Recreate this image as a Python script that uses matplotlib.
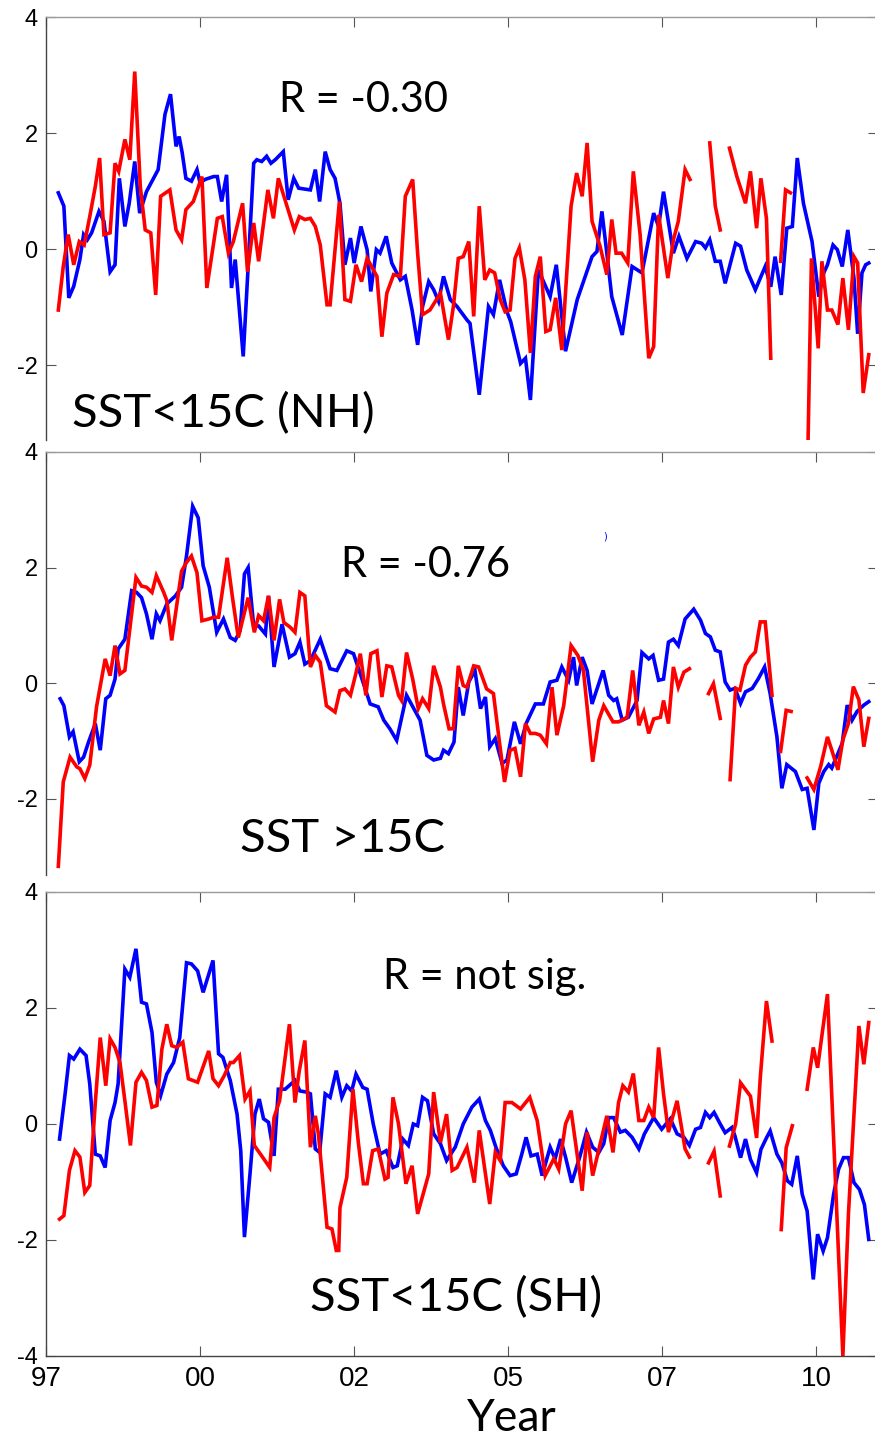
import numpy as np
import matplotlib
matplotlib.use("Agg")
import matplotlib.pyplot as plt

nan = np.nan

# x axis: decimal years, ticks every 2.5 years labelled with two digits
xticks = [1997.5, 2000.0, 2002.5, 2005.0, 2007.5, 2010.0]
xticklabels = ['97', '00', '02', '05', '07', '10']
yticks = [-4, -2, 0, 2, 4]
yticklabels = ['-4', '-2', '0', '2', '4']

# panel 1: SST<15C (NH)
nh_blue_t = [1997.70, 1997.79, 1997.87, 1997.95, 1998.05, 1998.11, 1998.17, 1998.24, 1998.36, 1998.44,
             1998.54, 1998.62, 1998.69, 1998.78, 1998.85, 1998.94, 1999.02, 1999.13, 1999.32, 1999.43,
             1999.52, 1999.61, 1999.66, 1999.71, 1999.77, 1999.86, 1999.95, 2000.00, 2000.08, 2000.22,
             2000.28, 2000.35, 2000.43, 2000.51, 2000.57, 2000.70, 2000.78, 2000.87, 2000.92, 2001.00,
             2001.08, 2001.15, 2001.22, 2001.35, 2001.43, 2001.52, 2001.60, 2001.79, 2001.87, 2001.94,
             2002.03, 2002.11, 2002.19, 2002.27, 2002.35, 2002.44, 2002.50, 2002.61, 2002.71, 2002.77,
             2002.86, 2002.92, 2003.02, 2003.11, 2003.25, 2003.33, 2003.44, 2003.53, 2003.61, 2003.71,
             2003.79, 2003.87, 2003.95, 2004.06, 2004.17, 2004.33, 2004.38, 2004.53, 2004.68, 2004.76,
             2004.86, 2004.98, 2005.04, 2005.20, 2005.28, 2005.36, 2005.49, 2005.68, 2005.78, 2005.93,
             2006.12, 2006.25, 2006.36, 2006.44, 2006.52, 2006.60, 2006.68, 2006.85, 2007.01, 2007.17,
             2007.36, 2007.44, 2007.52, 2007.68, 2007.77, 2007.90, 2008.04, 2008.14, 2008.20, 2008.27,
             2008.36, 2008.44, 2008.52, 2008.69, 2008.77, 2008.87, 2009.01, 2009.17, 2009.26, 2009.33,
             2009.43, 2009.52, 2009.61, 2009.69, 2009.79, 2009.93, 2010.04, 2010.12, 2010.18, 2010.27,
             2010.34, 2010.42, 2010.51, 2010.61, 2010.67, 2010.74, 2010.80, 2010.85]
nh_blue = [0.97, 0.74, -0.84, -0.64, -0.18, 0.25, 0.16, 0.28, 0.65, 0.48,
           -0.39, -0.27, 1.22, 0.39, 0.79, 1.51, 0.62, 0.99, 1.37, 2.32,
           2.67, 1.77, 1.94, 1.66, 1.22, 1.17, 1.37, 1.14, 1.20, 1.25,
           1.25, 0.82, 1.28, -0.67, -0.18, -1.85, -0.30, 1.48, 1.54, 1.51,
           1.60, 1.48, 1.54, 1.68, 0.85, 1.22, 1.05, 1.02, 1.37, 0.82,
           1.68, 1.37, 1.22, 0.79, -0.27, 0.19, -0.24, 0.39, -0.01, -0.73,
           -0.01, -0.07, 0.22, -0.24, -0.53, -0.47, -1.05, -1.65, -0.99, -0.56,
           -0.70, -0.90, -0.47, -0.87, -0.99, -1.22, -1.28, -2.51, -0.99, -1.13,
           -0.53, -1.08, -1.25, -1.97, -1.88, -2.60, -0.36, -0.82, -0.27, -1.76,
           -0.87, -0.47, -0.13, -0.04, 0.65, -0.07, -0.82, -1.48, -0.30, -0.41,
           0.62, 0.39, 0.99, -0.07, 0.22, -0.16, 0.13, 0.10, 0.02, 0.16,
           -0.21, -0.21, -0.59, 0.10, 0.05, -0.36, -0.70, -0.30, -0.65, -0.13,
           -0.79, 0.36, 0.39, 1.57, 0.79, 0.13, -0.82, -0.41, -0.27, 0.07,
           -0.01, -0.30, 0.33, -0.50, -1.46, -0.41, -0.27, -0.24]
nh_red_t = [1997.70, 1997.78, 1997.86, 1997.95, 1998.04, 1998.12, 1998.21, 1998.30, 1998.37, 1998.44,
            1998.54, 1998.62, 1998.68, 1998.78, 1998.86, 1998.94, 1999.03, 1999.11, 1999.20, 1999.28,
            1999.36, 1999.51, 1999.61, 1999.70, 1999.77, 1999.89, 2000.03, 2000.11, 2000.28, 2000.36,
            2000.46, 2000.54, 2000.69, 2000.77, 2000.87, 2000.95, 2001.10, 2001.19, 2001.27, 2001.41,
            2001.53, 2001.61, 2001.70, 2001.79, 2001.87, 2001.95, 2002.06, 2002.11, 2002.26, 2002.35,
            2002.44, 2002.53, 2002.62, 2002.71, 2002.87, 2002.95, 2003.03, 2003.14, 2003.25, 2003.33,
            2003.45, 2003.53, 2003.61, 2003.73, 2003.90, 2004.03, 2004.11, 2004.19, 2004.27, 2004.36,
            2004.44, 2004.53, 2004.62, 2004.70, 2004.78, 2004.87, 2004.95, 2005.03, 2005.11, 2005.18,
            2005.27, 2005.36, 2005.44, 2005.52, 2005.61, 2005.68, 2005.77, 2005.87, 2006.02, 2006.11,
            2006.20, 2006.28, 2006.36, 2006.49, 2006.60, 2006.68, 2006.75, 2006.84, 2006.94, 2007.03,
            2007.14, 2007.28, 2007.36, 2007.44, 2007.59, 2007.68, 2007.76, 2007.87, 2007.95, 2008.10,
            2008.27, 2008.36, 2008.44, 2008.52, 2008.59, 2008.71, 2008.85, 2008.93, 2009.03, 2009.10,
            2009.19, 2009.26, 2009.34, 2009.42, 2009.50, 2009.58, 2009.72, 2009.86, 2009.92, 2010.03,
            2010.09, 2010.18, 2010.25, 2010.35, 2010.43, 2010.52, 2010.61, 2010.67, 2010.76, 2010.85]
nh_red = [-1.05, -0.30, 0.25, -0.27, 0.13, 0.07, 0.56, 1.08, 1.57, 0.25,
          0.28, 1.48, 1.34, 1.89, 1.54, 3.06, 1.08, 0.33, 0.28, -0.79,
          0.91, 1.02, 0.33, 0.16, 0.68, 0.82, 1.25, -0.67, 0.53, 0.56,
          -0.07, 0.13, 0.79, -0.39, 0.45, -0.21, 1.02, 0.53, 1.22, 0.74,
          0.33, 0.56, 0.51, 0.53, 0.39, 0.07, -0.96, -0.96, 0.82, -0.87,
          -0.90, -0.27, -0.56, -0.16, -0.47, -1.51, -0.76, -0.44, -0.47, 0.91,
          1.20, -0.07, -1.13, -1.05, -0.76, -1.56, -0.99, -0.16, -0.13, 0.13,
          -1.16, 0.74, -0.53, -0.36, -0.41, -0.87, -1.08, -1.05, -0.16, 0.02,
          -0.53, -1.79, -0.47, -0.13, -1.42, -1.39, -0.84, -1.74, 0.74, 1.31,
          0.91, 1.83, 0.48, 0.05, -0.44, 0.51, -0.07, -0.07, -0.24, 1.34,
          0.25, -1.88, -1.68, 0.59, -0.50, 0.16, 0.48, 1.37, 1.20, nan,
          1.83, 0.74, 0.33, nan, 1.74, 1.25, 0.79, 1.34, 0.36, 1.22,
          0.53, -1.88, nan, -0.21, 1.02, 0.97, nan, -3.6, -0.16, -1.71,
          -0.21, -1.05, -1.05, -1.30, -0.50, -1.39, -0.13, -0.24, -2.48, -1.82]

# panel 2: SST >15C
warm_blue_t = [1997.73, 1997.79, 1997.88, 1997.94, 1998.04, 1998.11, 1998.19, 1998.30, 1998.38, 1998.47,
               1998.54, 1998.62, 1998.67, 1998.78, 1998.89, 1998.97, 1999.05, 1999.13, 1999.22, 1999.29,
               1999.35, 1999.46, 1999.60, 1999.70, 1999.78, 1999.88, 1999.97, 2000.05, 2000.15, 2000.27,
               2000.38, 2000.49, 2000.57, 2000.65, 2000.72, 2000.78, 2000.87, 2000.95, 2001.06, 2001.11,
               2001.20, 2001.33, 2001.45, 2001.54, 2001.62, 2001.70, 2001.79, 2001.95, 2002.11, 2002.22,
               2002.38, 2002.49, 2002.60, 2002.76, 2002.89, 2002.98, 2003.08, 2003.19, 2003.35, 2003.57,
               2003.68, 2003.79, 2003.90, 2003.95, 2004.03, 2004.12, 2004.19, 2004.27, 2004.36, 2004.46,
               2004.55, 2004.63, 2004.70, 2004.79, 2004.90, 2004.98, 2005.10, 2005.20, 2005.29, 2005.44,
               2005.57, 2005.68, 2005.79, 2005.87, 2005.98, 2006.06, 2006.11, 2006.20, 2006.28, 2006.36,
               2006.54, 2006.63, 2006.71, 2006.76, 2006.85, 2006.95, 2007.09, 2007.17, 2007.28, 2007.35,
               2007.44, 2007.52, 2007.60, 2007.68, 2007.76, 2007.87, 2008.01, 2008.12, 2008.20, 2008.28,
               2008.36, 2008.44, 2008.52, 2008.60, 2008.68, 2008.77, 2008.85, 2008.96, 2009.06, 2009.16,
               2009.25, 2009.36, 2009.44, 2009.52, 2009.66, 2009.77, 2009.85, 2009.96, 2010.04, 2010.12,
               2010.20, 2010.25, 2010.34, 2010.42, 2010.50, 2010.58, 2010.66, 2010.77, 2010.85]
warm_blue = [-0.27, -0.39, -0.93, -0.84, -1.36, -1.28, -1.02, -0.70, -1.16, -0.27,
             -0.21, 0.07, 0.59, 0.76, 1.60, 1.57, 1.48, 1.20, 0.76, 1.20,
             1.08, 1.37, 1.51, 1.66, 2.20, 3.06, 2.86, 2.03, 1.66, 0.88,
             1.11, 0.79, 0.74, 0.91, 1.89, 2.00, 0.99, 0.99, 0.85, 1.51,
             0.28, 1.02, 0.45, 0.51, 0.71, 0.33, 0.39, 0.76, 0.25, 0.22,
             0.56, 0.51, 0.16, -0.36, -0.41, -0.64, -0.79, -0.99, -0.21, -0.64,
             -1.25, -1.33, -1.30, -1.16, -1.22, -1.02, -0.07, -0.56, 0.02, 0.22,
             -0.44, -0.24, -1.10, -0.96, -1.39, -1.33, -0.67, -1.05, -0.70, -0.36,
             -0.36, 0.02, 0.05, 0.28, 0.05, 0.45, -0.04, 0.45, 0.22, -0.36,
             0.22, -0.21, -0.30, -0.27, -0.64, -0.59, -0.30, 0.53, 0.42, 0.48,
             0.05, 0.07, 0.71, 0.76, 0.65, 1.11, 1.28, 1.09, 0.86, 0.80,
             0.57, 0.54, 0.02, -0.12, -0.09, -0.35, -0.15, -0.09, 0.08, 0.28,
             -0.18, -0.93, -1.82, -1.41, -1.53, -1.84, -1.82, -2.54, -1.73, -1.53,
             -1.41, -1.47, -1.24, -1.04, -0.38, -0.64, -0.49, -0.38, -0.32]
warm_red_t = [1997.70, 1997.78, 1997.89, 1998.00, 1998.05, 1998.13, 1998.21, 1998.32, 1998.46, 1998.54,
              1998.62, 1998.70, 1998.78, 1998.96, 1999.05, 1999.13, 1999.22, 1999.29, 1999.41, 1999.46,
              1999.54, 1999.70, 1999.78, 1999.86, 1999.95, 2000.03, 2000.14, 2000.22, 2000.30, 2000.44,
              2000.53, 2000.62, 2000.78, 2000.88, 2000.95, 2001.03, 2001.11, 2001.20, 2001.29, 2001.36,
              2001.46, 2001.54, 2001.62, 2001.70, 2001.79, 2001.87, 2001.95, 2002.05, 2002.19, 2002.27,
              2002.35, 2002.44, 2002.52, 2002.60, 2002.69, 2002.77, 2002.87, 2002.95, 2003.03, 2003.11,
              2003.22, 2003.27, 2003.35, 2003.45, 2003.54, 2003.61, 2003.71, 2003.79, 2003.90, 2003.95,
              2004.04, 2004.11, 2004.19, 2004.27, 2004.33, 2004.44, 2004.52, 2004.65, 2004.76, 2004.84,
              2004.94, 2005.03, 2005.11, 2005.20, 2005.28, 2005.36, 2005.44, 2005.52, 2005.62, 2005.71,
              2005.79, 2005.90, 2006.02, 2006.13, 2006.22, 2006.37, 2006.47, 2006.55, 2006.70, 2006.79,
              2006.93, 2007.02, 2007.12, 2007.20, 2007.28, 2007.36, 2007.47, 2007.52, 2007.60, 2007.68,
              2007.76, 2007.85, 2007.94, 2008.10, 2008.25, 2008.33, 2008.44, 2008.52, 2008.60, 2008.69,
              2008.76, 2008.85, 2008.93, 2009.01, 2009.09, 2009.17, 2009.28, 2009.35, 2009.42, 2009.51,
              2009.59, 2009.72, 2009.85, 2009.96, 2010.07, 2010.18, 2010.25, 2010.35, 2010.43, 2010.52,
              2010.60, 2010.69, 2010.77, 2010.85]
warm_red = [-3.17, -1.71, -1.28, -1.45, -1.48, -1.65, -1.42, -0.41, 0.42, 0.13,
            0.65, 0.16, 0.22, 1.83, 1.68, 1.66, 1.57, 1.86, 1.57, 1.43,
            0.74, 1.94, 2.09, 2.20, 1.91, 1.08, 1.11, 1.14, 1.14, 2.17,
            1.45, 0.79, 1.48, 0.88, 1.17, 1.08, 1.51, 0.74, 1.45, 1.05,
            0.97, 0.88, 1.57, 1.51, 0.28, 0.48, 0.36, -0.39, -0.50, -0.13,
            -0.10, -0.21, 0.13, 0.51, -0.21, 0.51, 0.56, -0.24, 0.30, 0.28,
            -0.21, -0.30, 0.53, 0.07, -0.44, -0.27, -0.44, 0.30, -0.07, -0.36,
            -0.79, -0.79, 0.30, -0.04, -0.07, 0.30, 0.28, -0.10, -0.18, -0.87,
            -1.71, -1.16, -1.13, -1.62, -0.70, -0.87, -0.87, -0.90, -1.05, -0.07,
            -0.90, -0.39, 0.65, 0.48, 0.22, -1.36, -0.64, -0.39, -0.67, -0.67,
            -0.59, 0.22, -0.73, -0.50, -0.87, -0.62, -0.59, -0.30, -0.70, 0.28,
            -0.07, 0.19, 0.25, nan, -0.18, -0.01, -0.61, nan, -1.67, -0.09,
            -0.12, 0.31, 0.45, 0.54, 1.06, 1.06, -0.21, nan, -1.18, -0.47,
            -0.49, nan, -1.64, -1.84, -1.44, -0.93, -1.16, -1.50, -0.98, -0.70,
            -0.06, -0.29, -1.10, -0.61]

# panel 3: SST<15C (SH)
sh_blue_t = [1997.72, 1997.81, 1997.88, 1997.95, 1998.05, 1998.15, 1998.21, 1998.30, 1998.38, 1998.46,
             1998.54, 1998.62, 1998.67, 1998.78, 1998.86, 1998.96, 1999.05, 1999.13, 1999.22, 1999.29,
             1999.36, 1999.46, 1999.57, 1999.67, 1999.78, 1999.86, 1999.96, 2000.05, 2000.21, 2000.30,
             2000.37, 2000.49, 2000.60, 2000.66, 2000.72, 2000.81, 2000.89, 2000.96, 2001.03, 2001.11,
             2001.20, 2001.27, 2001.38, 2001.54, 2001.62, 2001.73, 2001.79, 2001.87, 2001.94, 2002.03,
             2002.11, 2002.21, 2002.30, 2002.38, 2002.46, 2002.53, 2002.64, 2002.71, 2002.81, 2002.92,
             2003.02, 2003.13, 2003.20, 2003.29, 2003.38, 2003.46, 2003.53, 2003.61, 2003.69, 2003.79,
             2003.90, 2004.00, 2004.14, 2004.27, 2004.41, 2004.53, 2004.63, 2004.71, 2004.80, 2004.92,
             2005.03, 2005.13, 2005.22, 2005.29, 2005.37, 2005.47, 2005.55, 2005.68, 2005.76, 2005.85,
             2005.93, 2006.03, 2006.16, 2006.27, 2006.37, 2006.47, 2006.55, 2006.63, 2006.71, 2006.82,
             2006.90, 2007.01, 2007.12, 2007.21, 2007.36, 2007.49, 2007.63, 2007.74, 2007.85, 2007.94,
             2008.04, 2008.12, 2008.20, 2008.27, 2008.34, 2008.44, 2008.52, 2008.63, 2008.68, 2008.77,
             2008.85, 2008.93, 2009.03, 2009.10, 2009.19, 2009.25, 2009.36, 2009.44, 2009.53, 2009.60,
             2009.69, 2009.77, 2009.85, 2009.95, 2010.02, 2010.11, 2010.18, 2010.28, 2010.36, 2010.44,
             2010.52, 2010.61, 2010.70, 2010.78, 2010.85]
sh_blue = [-0.26, 0.52, 1.18, 1.12, 1.29, 1.18, 0.69, -0.52, -0.55, -0.75,
           0.06, 0.37, 0.69, 2.67, 2.53, 3.02, 2.10, 2.07, 1.58, 0.72,
           0.49, 0.86, 1.06, 1.49, 2.78, 2.76, 2.64, 2.27, 2.82, 1.21,
           1.15, 0.75, 0.17, -0.46, -1.95, -0.86, 0.17, 0.43, 0.09, 0.03,
           -0.55, 0.60, 0.60, 0.75, 0.57, 0.55, 0.52, -0.43, -0.49, 0.52,
           0.46, 0.92, 0.46, 0.66, 0.57, 0.86, 0.63, 0.60, 0.00, -0.52,
           -0.46, -0.75, -0.72, -0.26, -0.37, 0.00, -0.03, 0.46, 0.40, -0.17,
           -0.34, -0.63, -0.40, 0.00, 0.29, 0.43, 0.06, -0.11, -0.40, -0.72,
           -0.89, -0.86, -0.52, -0.23, -0.55, -0.52, -0.89, -0.40, -0.60, -0.26,
           -0.57, -1.01, -0.57, -0.14, -0.40, -0.49, -0.34, 0.11, 0.11, -0.14,
           -0.11, -0.23, -0.43, -0.17, 0.11, -0.09, 0.09, -0.17, -0.23, -0.37,
           -0.09, -0.06, 0.20, 0.11, 0.20, 0.00, -0.15, -0.06, -0.21, -0.58,
           -0.26, -0.61, -0.84, -0.44, -0.24, -0.12, -0.52, -0.67, -0.98, -1.04,
           -0.55, -1.21, -1.50, -2.68, -1.90, -2.19, -1.96, -1.21, -0.78, -0.58,
           -0.58, -1.01, -1.13, -1.39, -1.99]
sh_red_t = [1997.72, 1997.79, 1997.88, 1997.97, 1998.05, 1998.13, 1998.21, 1998.30, 1998.38, 1998.47,
            1998.54, 1998.62, 1998.70, 1998.78, 1998.87, 1998.96, 1999.05, 1999.13, 1999.22, 1999.30,
            1999.38, 1999.46, 1999.54, 1999.62, 1999.72, 1999.81, 1999.96, 2000.14, 2000.21, 2000.30,
            2000.39, 2000.49, 2000.54, 2000.64, 2000.73, 2000.81, 2000.88, 2001.00, 2001.13, 2001.20,
            2001.29, 2001.45, 2001.54, 2001.61, 2001.70, 2001.79, 2001.87, 2001.92, 2002.06, 2002.14,
            2002.21, 2002.25, 2002.27, 2002.38, 2002.48, 2002.57, 2002.65, 2002.71, 2002.80, 2002.89,
            2003.00, 2003.05, 2003.13, 2003.22, 2003.34, 2003.44, 2003.53, 2003.71, 2003.79, 2003.90,
            2004.00, 2004.09, 2004.17, 2004.33, 2004.45, 2004.53, 2004.70, 2004.79, 2004.87, 2004.95,
            2005.06, 2005.20, 2005.35, 2005.47, 2005.60, 2005.74, 2005.82, 2005.93, 2006.02, 2006.20,
            2006.28, 2006.37, 2006.60, 2006.70, 2006.79, 2006.86, 2006.95, 2007.03, 2007.12, 2007.20,
            2007.28, 2007.36, 2007.44, 2007.52, 2007.60, 2007.74, 2007.87, 2007.94, 2008.10, 2008.25,
            2008.34, 2008.44, 2008.52, 2008.59, 2008.69, 2008.77, 2008.93, 2009.03, 2009.09, 2009.19,
            2009.28, 2009.35, 2009.43, 2009.51, 2009.61, 2009.72, 2009.85, 2009.95, 2010.02, 2010.18,
            2010.43, 2010.52, 2010.61, 2010.69, 2010.77, 2010.85]
sh_red = [-1.64, -1.58, -0.80, -0.46, -0.57, -1.18, -1.06, 0.37, 1.49, 0.66,
          1.47, 1.32, 1.06, 0.40, -0.37, 0.72, 0.89, 0.75, 0.29, 0.32,
          1.29, 1.72, 1.35, 1.32, 1.41, 0.78, 0.72, 1.26, 0.78, 0.66,
          0.83, 1.06, 1.06, 1.18, 0.43, 0.57, -0.37, -0.55, -0.75, 0.11,
          0.40, 1.72, 0.37, 0.92, 1.44, -0.40, 0.14, -0.17, -1.78, -1.81,
          -2.18, -2.18, -1.44, -0.92, 0.60, -0.34, -1.03, -1.03, -0.46, -0.43,
          -0.95, -0.92, 0.46, 0.00, -1.03, -0.72, -1.55, -0.86, 0.55, -0.32,
          0.17, -0.80, -0.75, -0.40, -1.01, -0.11, -1.38, -0.49, -0.63, 0.37,
          0.37, 0.26, 0.46, 0.06, -0.89, -0.60, -0.78, 0.00, 0.23, -1.15,
          -0.14, -0.89, 0.14, -0.49, 0.37, 0.66, 0.55, 0.87, 0.06, 0.06,
          0.29, 0.11, 1.32, 0.52, -0.14, 0.40, -0.43, -0.57, nan, -0.67,
          -0.47, -1.24, nan, -0.38, 0.00, 0.71, 0.48, -0.24, 0.80, 2.12,
          1.43, nan, -1.82, -0.41, -0.03, nan, 0.60, 1.32, 0.97, 2.24,
          -4.0, -1.56, 0.17, 1.69, 1.03, 1.75]

# annotations: (text, x year, y value)
r_labels = ['R = -0.30', 'R = -0.76', 'R = not sig.']
r_pos = [(2002.65, 2.36), (2003.65, 1.84), (2004.61, 2.33)]
name_labels = ['SST<15C (NH)', 'SST >15C', 'SST<15C (SH)']
name_pos = [(2000.37, -3.07), (2002.31, -2.93), (2004.16, -3.22)]

W, H = 875, 1440
fig = plt.figure(figsize=(W / 100, H / 100), dpi=100)

# axes boxes in pixels: (top, bottom, ymin) -- upper panels are cut off by the next one
boxes = [(17, 440, -3.29), (452, 875, -3.32), (892, 1356, -4.0)]
ax_left, ax_right = 46, 878

text_font = ['Lato', 'DejaVu Sans']
tick_font = ['Liberation Sans', 'DejaVu Sans']

series = [(nh_blue_t, nh_blue, nh_red_t, nh_red),
          (warm_blue_t, warm_blue, warm_red_t, warm_red),
          (sh_blue_t, sh_blue, sh_red_t, sh_red)]

for i, (top, bot, ymin) in enumerate(boxes):
    ax = fig.add_axes([ax_left / W, 1 - bot / H, (ax_right - ax_left) / W, (bot - top) / H])
    bt, bv, rt, rv = series[i]
    ax.plot(bt, bv, color='#0000ff', lw=2.6, solid_joinstyle='miter')
    ax.plot(rt, rv, color='#ff0000', lw=2.6, solid_joinstyle='miter')
    last = (i == 2)
    # only ticks inside the visible range, then fix the limits
    vis = [k for k, t in enumerate(yticks) if t >= ymin]
    ax.set_yticks([yticks[k] for k in vis])
    ax.set_yticklabels([yticklabels[k] for k in vis], family=tick_font, fontsize=17)
    ax.set_xticks(xticks)
    ax.set_xticklabels(xticklabels if last else [], family=tick_font, fontsize=20)
    ax.set_xlim(1997.5, 2011.0)
    ax.set_ylim(ymin, 4)
    ax.tick_params(axis='both', direction='in', length=7, width=0.8, color='#555555',
                   top=True, right=True, bottom=last, labelbottom=last)
    ax.tick_params(axis='y', pad=6)
    ax.tick_params(axis='x', pad=7)
    for s in ['left', 'bottom']:
        ax.spines[s].set_color('#444444')
        ax.spines[s].set_linewidth(1.0)
    ax.spines['top'].set_color('#999999')
    ax.spines['top'].set_linewidth(1.0)
    ax.spines['right'].set_visible(False)
    if not last:
        ax.spines['bottom'].set_visible(False)

    ax.text(r_pos[i][0], r_pos[i][1], r_labels[i], family=text_font, fontsize=30,
            ha='center', va='baseline')
    ax.text(name_pos[i][0], name_pos[i][1], name_labels[i], family=text_font, fontsize=34,
            ha='center', va='baseline')
    if i == 1:
        ax.text(2006.57, 2.53, ')', color='#0000ff', fontsize=7, ha='center', va='center')

fig.text(512 / W, 1 - 1431 / H, 'Year', family=text_font, fontsize=32, ha='center', va='baseline')

fig.savefig('out.png', dpi=100)
